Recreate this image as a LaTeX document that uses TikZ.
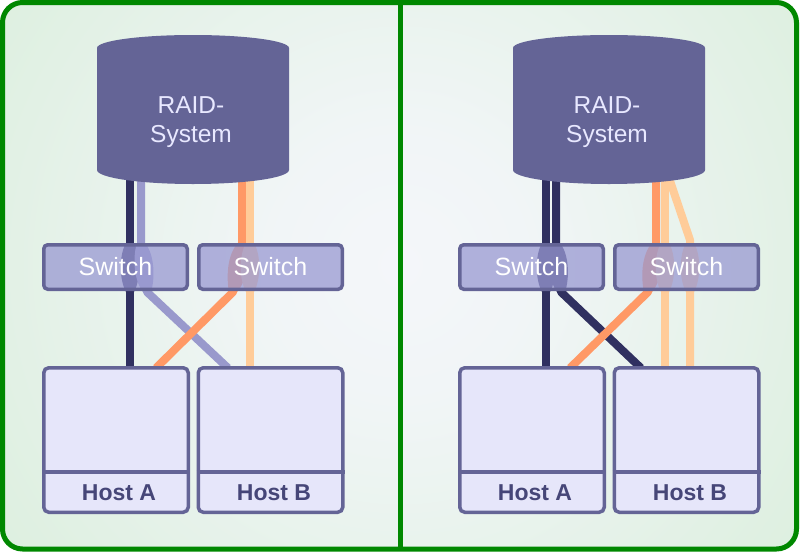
\documentclass[tikz,border=0pt]{standalone}
\usepackage{fontspec}
\setmainfont{Liberation Sans}
\definecolor{frameg}{RGB}{0,136,0}
\definecolor{bggreen}{RGB}{208,236,208}
\definecolor{bgwhite}{RGB}{244,246,250}
\definecolor{raidc}{RGB}{100,100,150}
\definecolor{raidtxt}{RGB}{232,232,255}
\definecolor{swfill}{RGB}{153,153,210}
\definecolor{hostfill}{RGB}{230,230,250}
\definecolor{hosttxt}{RGB}{70,70,120}
\definecolor{cdark}{RGB}{48,48,96}
\definecolor{cpurple}{RGB}{153,153,204}
\definecolor{corange}{RGB}{255,153,102}
\definecolor{cpeach}{RGB}{255,204,153}
\pgfdeclareradialshading{bgshade}{\pgfpoint{0bp}{0bp}}{color(0bp)=(bgwhite); color(6bp)=(bgwhite!92!bggreen); color(20bp)=(bgwhite!45!bggreen); color(36bp)=(bggreen); color(50bp)=(bggreen)}
\newcommand\wirelens[3]{%
  \fill[#3] (#1-4,243) .. controls (#1/2+#2/2-11,255) and (#1/2+#2/2-11,279) .. (#2-4,292)
    -- (#2+4,292) .. controls (#1/2+#2/2+11,279) and (#1/2+#2/2+11,255) .. (#1+4,243) -- cycle;}
\tikzset{
  wire/.style={line width=8pt, line join=round},
  switchbox/.style={draw=raidc, line width=3.5pt, fill=swfill, fill opacity=0.75, draw opacity=1,
    text opacity=1, text=white, rounded corners=4pt, minimum width=143.5pt, minimum height=44.5pt,
    inner sep=0pt, font=\fontsize{25}{29}\selectfont},
  hostbox/.style={draw=raidc, line width=3.5pt, fill=hostfill, rounded corners=5pt,
    minimum width=144.5pt, minimum height=144.5pt, inner sep=0pt},
  hostline/.style={draw=raidc, line width=3.5pt},
  hosttext/.style={text=hosttxt, font=\bfseries\fontsize{23}{27}\selectfont, inner sep=0pt},
  raidtext/.style={text=raidtxt, font=\fontsize{24.5}{29}\selectfont, inner sep=0pt, anchor=base},
  raidbody/.style={fill=raidc},
  frameline/.style={draw=frameg, line width=5pt}
}
\begin{document}
\begin{tikzpicture}[x=1pt,y=-1pt]
\useasboundingbox (0,0) rectangle (800,552);
% background
\begin{scope}
\clip[rounded corners=20pt] (2.5,2.5) rectangle (796.5,549);
\shade[shading=bgshade] (400,265) circle (540pt);
\end{scope}
\draw[frameline, rounded corners=20pt] (2.5,2.5) rectangle (796.5,549);
\draw[frameline, line width=4.5pt] (400.5,2.5) -- (400.5,549);

% ---------- left panel ----------
\draw[wire, cdark] (130,176) -- (130,368);
\draw[wire, cpurple] (141,176) -- (141,243) -- (147,292) -- (228,368);
\draw[wire, corange] (242,176) -- (242,243) -- (233,292) -- (156,368);
\draw[wire, cpeach] (250,176) -- (250,368);
\wirelens{130}{130}{cdark}
\wirelens{141}{147}{cpurple}
\wirelens{242}{233}{corange}
\wirelens{250}{250}{cpeach}
\fill[raidbody] (97,48) arc[start angle=180,end angle=0,x radius=96pt,y radius=13pt]
  -- (289,170) arc[start angle=0,end angle=-180,x radius=96pt,y radius=14pt] -- cycle;
\node[raidtext] (raidLa) at (191,113) {RAID-};
\node[raidtext] (raidLb) at (191,142) {System};
\node[switchbox] (swL1) at (115.5,267) {Switch};
\node[switchbox] (swL2) at (270.5,267) {Switch};
\node[hostbox] (hostLA) at (116,440) {};
\node[hostbox] (hostLB) at (270.5,440) {};
\draw[hostline] (hostLA.west |- 0,472) -- (hostLA.east |- 0,472);
\draw[hostline] (hostLB.west |- 0,472) -- (hostLB.east |- 0,472);
\node[hosttext] (lblLA) at (119,493) {Host A};
\node[hosttext] (lblLB) at (274,493) {Host B};

% ---------- right panel ----------
\draw[wire, cdark] (546,176) -- (546,368);
\draw[wire, cdark] (556,176) -- (556,243) -- (561,292) -- (641,368);
\draw[wire, corange] (656,176) -- (656,243) -- (648,292) -- (570,368);
\draw[wire, cpeach] (665,176) -- (665,368);
\draw[wire, cpeach] (669,178) -- (690,240) -- (690,368);
\wirelens{546}{546}{cdark}
\wirelens{556}{561}{cdark}
\wirelens{656}{648}{corange}
\wirelens{665}{665}{cpeach}
\wirelens{690}{690}{cpeach}
\fill[raidbody] (513,48) arc[start angle=180,end angle=0,x radius=96pt,y radius=13pt]
  -- (705,170) arc[start angle=0,end angle=-180,x radius=96pt,y radius=14pt] -- cycle;
\node[raidtext] (raidRa) at (607,113) {RAID-};
\node[raidtext] (raidRb) at (607,142) {System};
\node[switchbox] (swR1) at (531.5,267) {Switch};
\node[switchbox] (swR2) at (686.5,267) {Switch};
\node[hostbox] (hostRA) at (532,440) {};
\node[hostbox] (hostRB) at (686.5,440) {};
\draw[hostline] (hostRA.west |- 0,472) -- (hostRA.east |- 0,472);
\draw[hostline] (hostRB.west |- 0,472) -- (hostRB.east |- 0,472);
\node[hosttext] (lblRA) at (535,493) {Host A};
\node[hosttext] (lblRB) at (690,493) {Host B};
\end{tikzpicture}
\end{document}
